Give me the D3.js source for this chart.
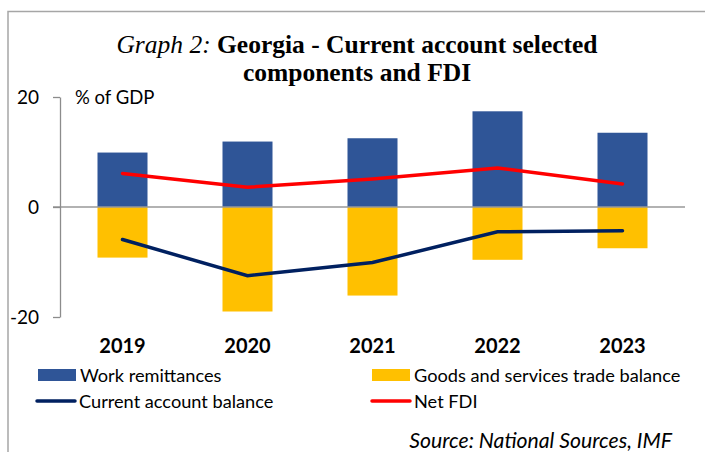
<!DOCTYPE html>
<html>
<head>
<meta charset="utf-8">
<script src="https://cdn.jsdelivr.net/npm/d3@7"></script>
<style>
  body { margin: 0; background: #fff; }
  svg { display: block; }
  .tick text, .label, .legend-text { font-family: Lato, sans-serif; fill: #000; }
  .title { font-family: "Liberation Serif", "Times New Roman", serif; fill: #000; }
</style>
</head>
<body>
<svg id="chart" width="705" height="452"></svg>
<script>
// data (% of GDP)
const years = ['2019', '2020', '2021', '2022', '2023'];
const workRemittances = [9.9, 11.9, 12.5, 17.4, 13.5];
const tradeBalance = [-9.2, -19.0, -16.1, -9.6, -7.5];
const currentAccount = [-5.9, -12.5, -10.1, -4.5, -4.3];
const netFDI = [6.1, 3.6, 5.1, 7.1, 4.2];
const yTicks = [-20, 0, 20];

const svg = d3.select('#chart');

// frame
svg.append('path')
  .attr('d', 'M8,460 L8,11.5 L710,11.5')
  .attr('fill', 'none')
  .attr('stroke', '#a6a6a6')
  .attr('stroke-width', 1.5);

// title
const title = svg.append('text')
  .attr('class', 'title')
  .attr('x', 357)
  .attr('y', 53)
  .attr('text-anchor', 'middle')
  .style('font-size', '25.5px');
title.append('tspan').style('font-style', 'italic').text('Graph 2:');
title.append('tspan').style('font-weight', 'bold').text(' Georgia - Current account selected');

svg.append('text')
  .attr('class', 'title')
  .attr('x', 357)
  .attr('y', 81)
  .attr('text-anchor', 'middle')
  .style('font-size', '25.5px')
  .style('font-weight', 'bold')
  .text('components and FDI');

const xScale = d3.scaleBand()
  .domain(years)
  .range([60, 685])
  .paddingInner(0.6)
  .paddingOuter(0.3);

const yScale = d3.scaleLinear()
  .domain([-20, 20])
  .range([317, 97]);

const cx = (d) => xScale(d) + xScale.bandwidth() / 2;

// bars
const chart = svg.append('g');

chart.selectAll('.bar-rem')
  .data(years)
  .enter()
  .append('rect')
  .attr('class', 'bar-rem')
  .attr('x', (d) => xScale(d))
  .attr('width', xScale.bandwidth())
  .attr('y', (d, i) => yScale(workRemittances[i]))
  .attr('height', (d, i) => yScale(0) - yScale(workRemittances[i]))
  .attr('fill', '#2f5597');

chart.selectAll('.bar-trade')
  .data(years)
  .enter()
  .append('rect')
  .attr('class', 'bar-trade')
  .attr('x', (d) => xScale(d))
  .attr('width', xScale.bandwidth())
  .attr('y', yScale(0))
  .attr('height', (d, i) => yScale(tradeBalance[i]) - yScale(0))
  .attr('fill', '#ffc000');

// zero line
svg.append('line')
  .attr('x1', 53)
  .attr('x2', 685)
  .attr('y1', yScale(0))
  .attr('y2', yScale(0))
  .attr('stroke', '#999')
  .attr('stroke-width', 1.5);

// y axis
const yAxis = svg.append('g')
  .attr('transform', 'translate(60,0)')
  .call(d3.axisLeft(yScale)
    .tickValues(yTicks)
    .tickSize(7)
    .tickSizeOuter(0)
    .tickPadding(14)
    .tickFormat((d) => d));

yAxis.selectAll('path, line').attr('stroke', '#8c8c8c').attr('stroke-width', 1.3);
yAxis.selectAll('text').style('font-size', '19px');

svg.append('text')
  .attr('class', 'label')
  .attr('x', 75)
  .attr('y', 104)
  .style('font-size', '18.5px')
  .text('% of GDP');

// lines
const line = d3.line()
  .x((d, i) => cx(years[i]))
  .y((d) => yScale(d));

svg.append('path')
  .datum(netFDI)
  .attr('d', line)
  .attr('fill', 'none')
  .attr('stroke', '#ff0000')
  .attr('stroke-width', 3.5)
  .attr('stroke-linecap', 'round');

svg.append('path')
  .datum(currentAccount)
  .attr('d', line)
  .attr('fill', 'none')
  .attr('stroke', '#002060')
  .attr('stroke-width', 3.5)
  .attr('stroke-linecap', 'round');

// year labels
svg.selectAll('.year')
  .data(years)
  .enter()
  .append('text')
  .attr('class', 'label year')
  .attr('x', (d) => cx(d))
  .attr('y', 353)
  .attr('text-anchor', 'middle')
  .style('font-size', '20px')
  .style('font-weight', 'bold')
  .text((d) => d);

// legend
const legendItems = [
  { name: 'Work remittances', type: 'rect', color: '#2f5597', x: 38, y: 375 },
  { name: 'Goods and services trade balance', type: 'rect', color: '#ffc000', x: 372, y: 375 },
  { name: 'Current account balance', type: 'line', color: '#002060', x: 37, y: 401 },
  { name: 'Net FDI', type: 'line', color: '#ff0000', x: 372, y: 401 }
];

const legend = svg.selectAll('.legend')
  .data(legendItems)
  .enter()
  .append('g')
  .attr('class', 'legend')
  .attr('transform', (d) => `translate(${d.x}, ${d.y})`);

legend.filter((d) => d.type === 'rect')
  .append('rect')
  .attr('x', 0)
  .attr('y', -6)
  .attr('width', 38)
  .attr('height', 12)
  .attr('fill', (d) => d.color);

legend.filter((d) => d.type === 'line')
  .append('line')
  .attr('x1', 0)
  .attr('x2', 38)
  .attr('stroke', (d) => d.color)
  .attr('stroke-width', 3.5)
  .attr('stroke-linecap', 'round');

legend.append('text')
  .attr('class', 'legend-text')
  .attr('x', 42)
  .attr('y', 6.5)
  .style('font-size', '18.2px')
  .text((d) => d.name);

// source
svg.append('text')
  .attr('class', 'label')
  .attr('x', 672)
  .attr('y', 448)
  .attr('text-anchor', 'end')
  .style('font-size', '21.2px')
  .style('font-style', 'italic')
  .text('Source: National Sources, IMF');
</script>
</body>
</html>
